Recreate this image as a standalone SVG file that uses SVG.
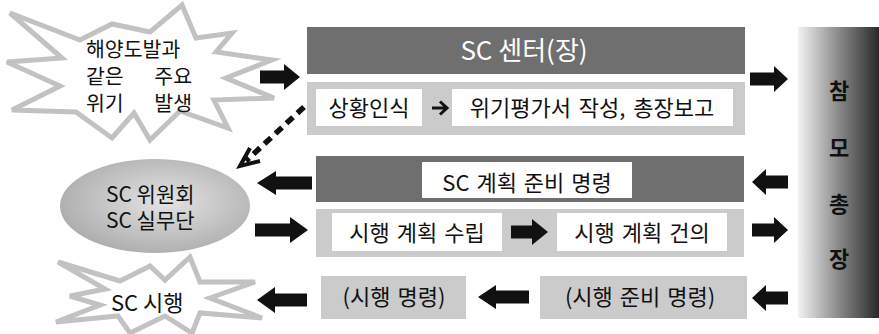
<svg xmlns="http://www.w3.org/2000/svg" width="879" height="334" viewBox="0 0 879 334">
<style>
text{font-family:"Noto Sans CJK KR","Noto Sans",sans-serif;fill:#111;}
.t21{font-size:22px;}
.s21{font-size:21px;}
.s20{font-size:20.5px;}
.dark{fill:#6f6f6f;}
.light{fill:#cbcbcb;}
.wb{fill:#fff;}
.star{fill:#fff;stroke:#c2c2c2;stroke-width:5;stroke-linejoin:miter;}
.blk{fill:#111;}
.side{font-size:22px;font-weight:bold;text-anchor:middle;}
</style>
<defs>
<radialGradient id="eg" cx="0.55" cy="0.45" r="0.6">
<stop offset="0" stop-color="#e4e4e4"/>
<stop offset="1" stop-color="#ababab"/>
</radialGradient>
<linearGradient id="pg" x1="0" y1="0" x2="1" y2="0">
<stop offset="0" stop-color="#f2f2f2"/>
<stop offset="0.5" stop-color="#8a8a8a"/>
<stop offset="1" stop-color="#2a2a2a"/>
</linearGradient>
</defs>

<g id="crisis">
<polygon class="star" points="10,13 80,40 112,24 150,32 182,5 196,38 232,33 216,52 272,60 226,78 274,98 214,100 228,128 180,111 150,140 134,113 112,138 76,112 12,110 60,86 7,62 62,58"/>
<text class="s20" x="86" y="57">해양도발과</text>
<text class="s20" x="86" y="84">같은</text>
<text class="s20" x="192" y="84" text-anchor="end">주요</text>
<text class="s20" x="86" y="111">위기</text>
<text class="s20" x="192" y="111" text-anchor="end">발생</text>
</g>

<g id="sc-center">
<rect class="dark" x="307" y="27" width="438" height="47"/>
<text x="524" y="60" font-size="26" text-anchor="middle" style="fill:#fff">SC 센터(장)</text>
</g>

<g id="row1">
<rect class="light" x="307" y="82" width="438" height="53"/>
<rect class="wb" x="316" y="89" width="106" height="37"/>
<text class="t21" x="369" y="116" text-anchor="middle">상황인식</text>
<rect class="wb" x="452" y="89" width="281" height="37"/>
<text class="t21" x="592" y="116" text-anchor="middle" word-spacing="3">위기평가서 작성, 총장보고</text>
<path d="M432,108 H446 M440,101.5 L447,108 L440,114.5" fill="none" stroke="#111" stroke-width="3"/>
</g>

<g id="chief">
<rect x="798" y="27" width="81" height="291" fill="url(#pg)"/>
<text class="side" x="839" y="99">참</text>
<text class="side" x="839" y="156">모</text>
<text class="side" x="839" y="212">총</text>
<text class="side" x="839" y="267">장</text>
</g>

<g id="committee">
<ellipse cx="155" cy="206" rx="95" ry="47" fill="url(#eg)"/>
<text class="s21" x="106" y="202">SC 위원회</text>
<text class="s21" x="106" y="228">SC 실무단</text>
</g>

<g id="row2">
<rect class="dark" x="316" y="156" width="428" height="46"/>
<rect class="wb" x="422" y="162" width="210" height="36"/>
<text class="t21" x="527" y="191" text-anchor="middle" word-spacing="2">SC 계획 준비 명령</text>
</g>

<g id="row3">
<rect class="light" x="316" y="209" width="428" height="48"/>
<rect class="wb" x="332" y="213" width="170" height="38"/>
<text class="t21" x="417" y="241" text-anchor="middle" word-spacing="2">시행 계획 수립</text>
<rect class="wb" x="557" y="213" width="170" height="38"/>
<text class="t21" x="642" y="241" text-anchor="middle" word-spacing="2">시행 계획 건의</text>
</g>

<g id="order">
<rect class="light" x="321" y="276" width="145" height="43"/>
<text class="t21" x="394" y="305" text-anchor="middle" word-spacing="2">(시행 명령)</text>
</g>

<g id="prep-order">
<rect class="light" x="540" y="276" width="207" height="43"/>
<text class="t21" x="640" y="305" text-anchor="middle" word-spacing="2">(시행 준비 명령)</text>
</g>

<g id="execute">
<polygon class="star" points="58,262 120,281 150,266 165,280 190,257 200,282 255,282 210,298 262,318 200,313 192,333 165,316 130,333 118,316 56,322 100,305 70,296 105,289"/>
<text class="t21" x="111" y="311">SC 시행</text>
</g>

<g id="connectors">
<path class="blk" d="M260,70.5 H284 V64 L300,77 L284,90 V83.5 H260 Z"/>
<path class="blk" d="M750,72.5 H774 V66 L788,79 L774,92 V85.5 H750 Z"/>
<path class="blk" d="M788,175.5 H766 V169 L752,182 L766,195 V188.5 H788 Z"/>
<path class="blk" d="M752,223.5 H774 V217 L788,230 L774,243 V236.5 H752 Z"/>
<path class="blk" d="M788,291.5 H766 V285 L752,298 L766,311 V304.5 H788 Z"/>
<path class="blk" d="M312,176.5 H276 V171 L257,183 L276,195 V189.5 H312 Z"/>
<path class="blk" d="M255,223.5 H290 V217 L308,230 L290,243 V236.5 H255 Z"/>
<path class="blk" d="M307,293.5 H275 V287 L257,300 L275,313 V306.5 H307 Z"/>
<path class="blk" d="M511,225.5 H532 V219 L548,232 L532,245 V238.5 H511 Z"/>
<path class="blk" d="M529,290.5 H496 V285 L478,297 L496,309 V303.5 H529 Z"/>
<line x1="304" y1="107" x2="246" y2="161" stroke="#111" stroke-width="5.5" stroke-dasharray="9,6"/>
<path d="M250,148 L240,166 L260,161" fill="none" stroke="#111" stroke-width="4" stroke-linejoin="miter"/>
</g>
</svg>
